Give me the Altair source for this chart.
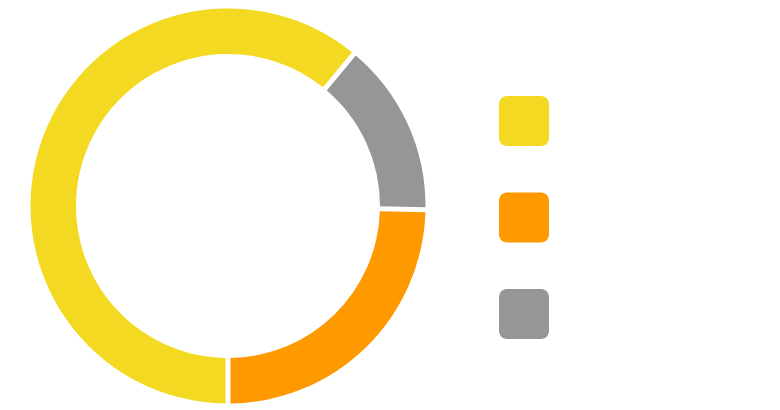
import altair as alt
import pandas as pd

categories = ["A", "B", "C"]
values = [61.0, 24.7, 14.3]
colors = ["#F4D923", "#FF9900", "#969696"]
arc_order = [0, 2, 1]  # yellow, gray, orange going clockwise from 6 o'clock

df = pd.DataFrame({"category": categories, "value": values, "ord": arc_order})

rounded = ("M -0.68 -1 L 0.68 -1 A 0.32 0.32 0 0 1 1 -0.68 L 1 0.68 "
           "A 0.32 0.32 0 0 1 0.68 1 L -0.68 1 A 0.32 0.32 0 0 1 -1 0.68 "
           "L -1 -0.68 A 0.32 0.32 0 0 1 -0.68 -1 Z")

chart = alt.Chart(df).mark_arc(
    innerRadius=152, outerRadius=197.5, padAngle=0.02
).encode(
    theta=alt.Theta("value:Q", stack=True,
                    scale=alt.Scale(range=[3.14159265, 3 * 3.14159265])),
    order=alt.Order("ord:Q"),
    color=alt.Color(
        "category:N",
        scale=alt.Scale(domain=categories, range=colors),
        legend=alt.Legend(
            title=None, orient="none", legendX=491, legendY=88,
            symbolType=rounded, symbolSize=2500, symbolStrokeWidth=0,
            rowPadding=46.5, labelExpr="''", padding=0, offset=0,
        ),
    ),
).properties(width=440, height=396, padding=0).configure_view(stroke=None)

chart.save("out.html", embed_options={"renderer": "svg", "actions": False})
